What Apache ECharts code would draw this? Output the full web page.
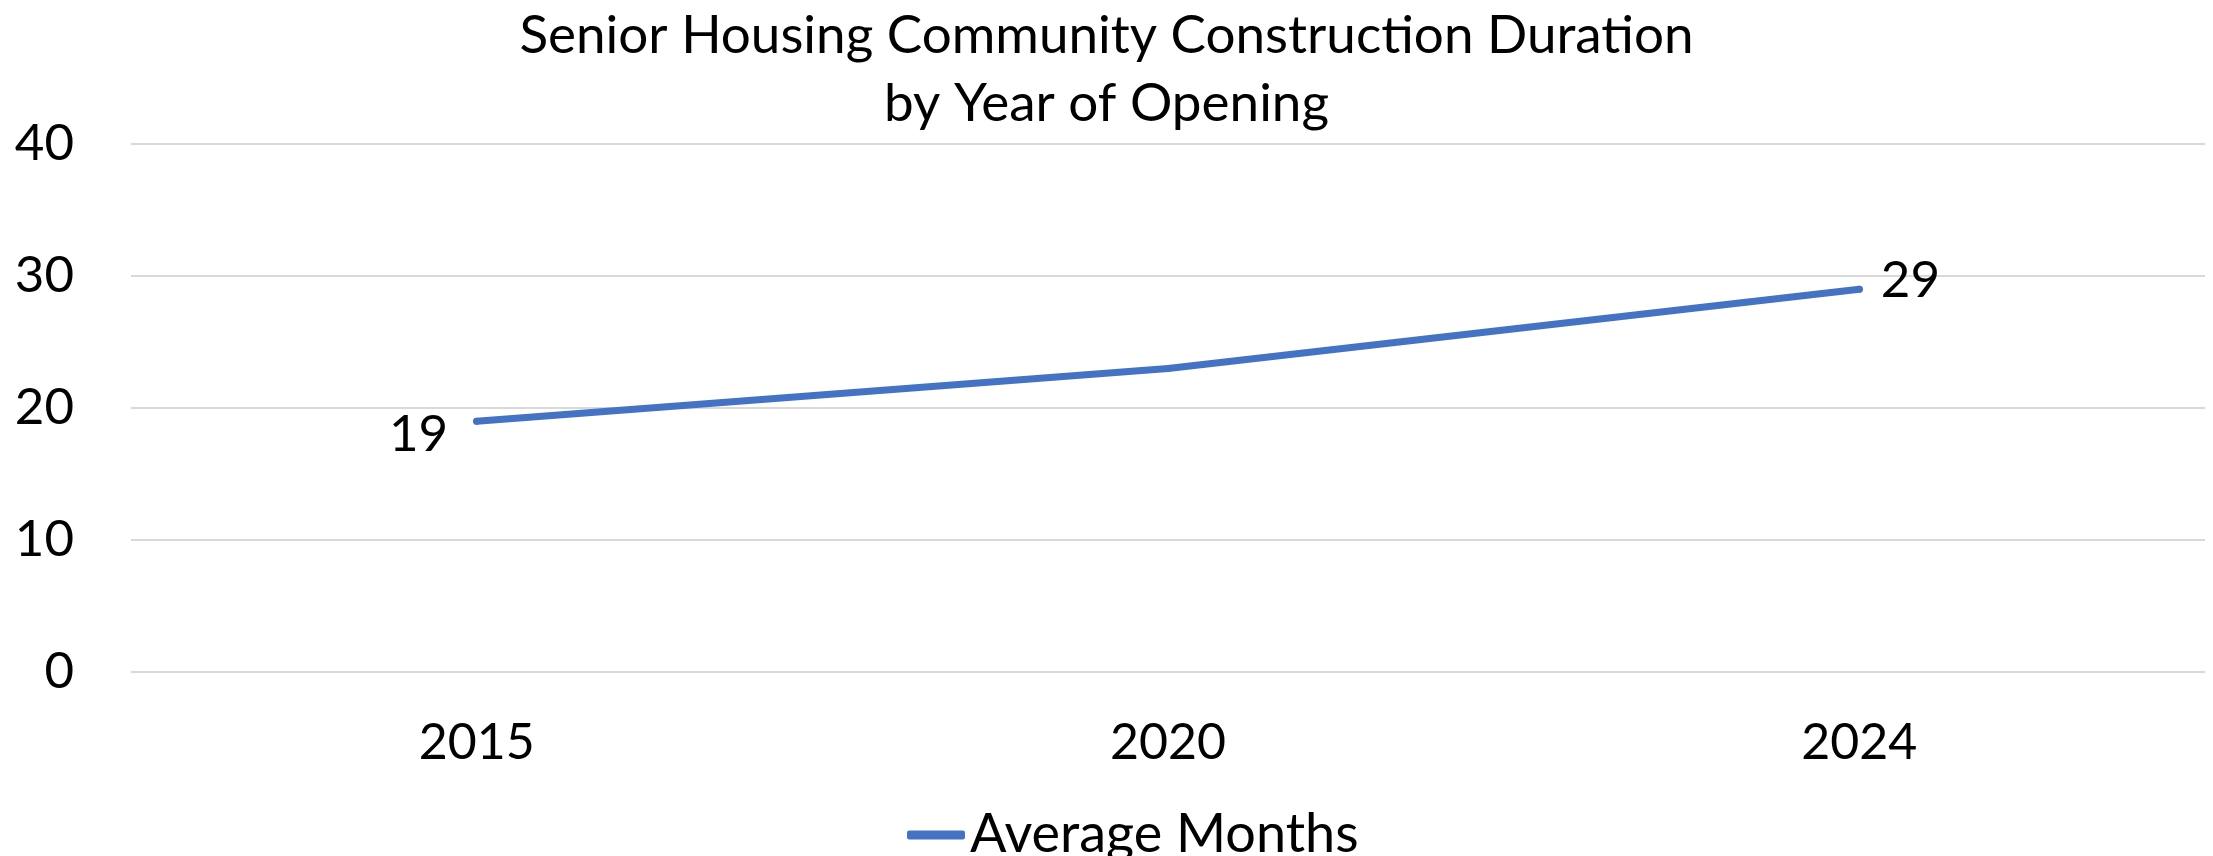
<!DOCTYPE html>
<html>
<head>
<meta charset="utf-8">
<script src="https://cdn.jsdelivr.net/npm/echarts@6/dist/echarts.min.js"></script>
<style>
html, body { margin: 0; padding: 0; background: #fff; }
#main { width: 2213px; height: 856px; }
</style>
</head>
<body>
<div id="main"></div>
<script>
// data
var years = ['2015', '2020', '2024']
var avgMonths = [19, 23, 29]
var seriesName = 'Average Months'
var titleText = 'Senior Housing Community Construction Duration\nby Year of Opening'

var font = 'Lato'
var chart = echarts.init(document.getElementById('main'))

// labels only on first and last point
var points = avgMonths.map(function (v, i) {
    if (i == 0) {
        return { value: v, label: { show: true, position: 'left', distance: 25, offset: [0, 13] } }
    }
    if (i == avgMonths.length - 1) {
        return { value: v, label: { show: true, position: 'right', distance: 18, offset: [0, -9] } }
    }
    return v
})

chart.setOption({
    animation: false,
    title: {
        text: titleText,
        left: 'center',
        top: -3,
        textStyle: {
            fontFamily: font,
            fontSize: 53,
            fontWeight: 'normal',
            color: '#000',
            lineHeight: 68
        }
    },
    legend: {
        data: [seriesName],
        left: 902,
        top: 803,
        icon: 'roundRect',
        itemWidth: 58,
        itemHeight: 9,
        itemGap: 8,
        textStyle: { fontFamily: font, fontSize: 54, color: '#000', padding: [0, 0, 0, 0] }
    },
    grid: { left: 131, right: 8, top: 144, bottom: 184 },
    xAxis: {
        type: 'category',
        data: years,
        boundaryGap: true,
        axisLine: { show: false },
        axisTick: { show: false },
        axisLabel: { fontFamily: font, fontSize: 50, color: '#000', margin: 46 }
    },
    yAxis: {
        type: 'value',
        min: 0,
        max: 40,
        interval: 10,
        axisLine: { show: false },
        axisTick: { show: false },
        axisLabel: { fontFamily: font, fontSize: 51, color: '#000', margin: 57 },
        splitLine: { lineStyle: { color: '#d9d9d9', width: 2 } }
    },
    series: [{
        name: seriesName,
        type: 'line',
        data: points,
        symbol: 'circle',
        symbolSize: 7,
        color: '#4472c4',
        lineStyle: { width: 7, cap: 'round', color: '#4472c4' },
        label: { fontFamily: font, fontSize: 51, color: '#000' }
    }]
})
</script>
</body>
</html>
